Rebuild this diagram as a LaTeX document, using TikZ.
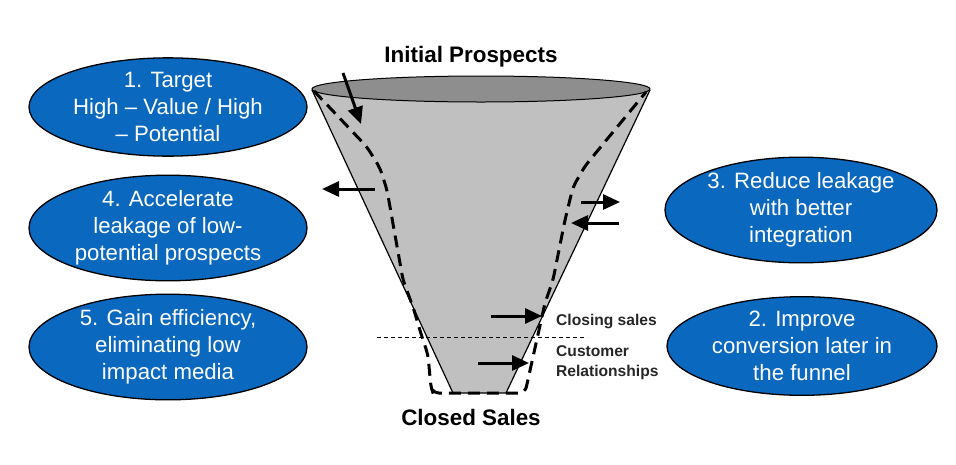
\documentclass[tikz,border=0pt]{standalone}
\usepackage{fontspec}
\setmainfont{Liberation Sans}
\usetikzlibrary{shapes.geometric,arrows.meta}
\definecolor{ovalblue}{RGB}{10,104,190}
\definecolor{funnelbody}{RGB}{192,192,192}
\definecolor{funneltop}{RGB}{142,142,142}
\tikzset{
  oval/.style={ellipse,draw=black,line width=1.3pt,fill=ovalblue,text=white,
    minimum width=278pt,minimum height=96pt,inner sep=0pt,align=center,
    font=\fontsize{22.2}{27}\selectfont},
  biglabel/.style={font=\fontsize{22.4}{26}\selectfont\bfseries,inner sep=0pt},
  smalllabel/.style={font=\fontsize{15.6}{20}\selectfont\bfseries,inner sep=0pt,align=left,anchor=west,text=black!85},
  flow/.style={line width=3pt,-{Triangle[length=17pt,width=15pt]}},
  leak/.style={line width=3pt,dash pattern=on 12pt off 7pt,rounded corners=6pt}
}
\begin{document}
\begin{tikzpicture}[x=1pt,y=-1pt]
\useasboundingbox (0,0) rectangle (956,464);
% funnel body
\fill[funnelbody] (312,90) -- (453,393) -- (506,393) -- (650,90) -- cycle;
\draw[black,line width=1.2pt] (312,90) -- (453,393) -- (506,393) -- (650,90);
% top ellipse
\node[ellipse,draw=black,line width=1pt,fill=funneltop,minimum width=338pt,minimum height=26pt,inner sep=0pt] (top) at (481,89) {};
% leakage dashed paths
\draw[leak] (314,91) -- (367,147) -- (380,168) -- (387,190) -- (403,280) -- (413,307) -- (422,337) -- (428,355) -- (431,388) -- (433,393) -- (525,393) -- (531,366) -- (545,303) -- (553,280) -- (565,220) -- (573,187) -- (585,166) -- (646,92);
% stage line
\coordinate (sl1) at (377,337);
\coordinate (sl2) at (587,337);
\draw[line width=0.8pt,dash pattern=on 4pt off 3pt] (sl1) -- (sl2);
% labels
\node[biglabel] (init) at (471,57) {Initial Prospects};
\node[biglabel] (closed) at (471,417) {Closed Sales};
\node[smalllabel] (closing) at (556,321) {Closing sales};
\node[smalllabel] (cust) at (556,363) {Customer\\Relationships};
% ovals
\node[oval] (o1) at (168,107) {1. Target\\High – Value / High\\– Potential};
\node[oval] (o4) at (168,228) {4. Accelerate\\leakage of low-\\potential prospects};
\node[oval] (o5) at (168,347) {5. Gain efficiency,\\eliminating low\\impact media};
\node[oval,minimum width=272pt,minimum height=94pt] (o3) at (801,210) {3. Reduce leakage\\with better\\integration};
\node[oval,minimum width=270pt,minimum height=95pt] (o2) at (802,346) {2. Improve\\conversion later in\\the funnel};
% arrows
\coordinate (a1s) at (343,73); \coordinate (a1e) at (361,124);
\coordinate (a2s) at (375,189); \coordinate (a2e) at (322,189);
\coordinate (a3s) at (581,202); \coordinate (a3e) at (620,202);
\coordinate (a4s) at (619,223); \coordinate (a4e) at (571,223);
\coordinate (a5s) at (491,316); \coordinate (a5e) at (542,316);
\coordinate (a6s) at (478,363); \coordinate (a6e) at (529,363);
\draw[flow] (a1s) -- (a1e);
\draw[flow] (a2s) -- (a2e);
\draw[flow] (a3s) -- (a3e);
\draw[flow] (a4s) -- (a4e);
\draw[flow] (a5s) -- (a5e);
\draw[flow] (a6s) -- (a6e);
\end{tikzpicture}
\end{document}
